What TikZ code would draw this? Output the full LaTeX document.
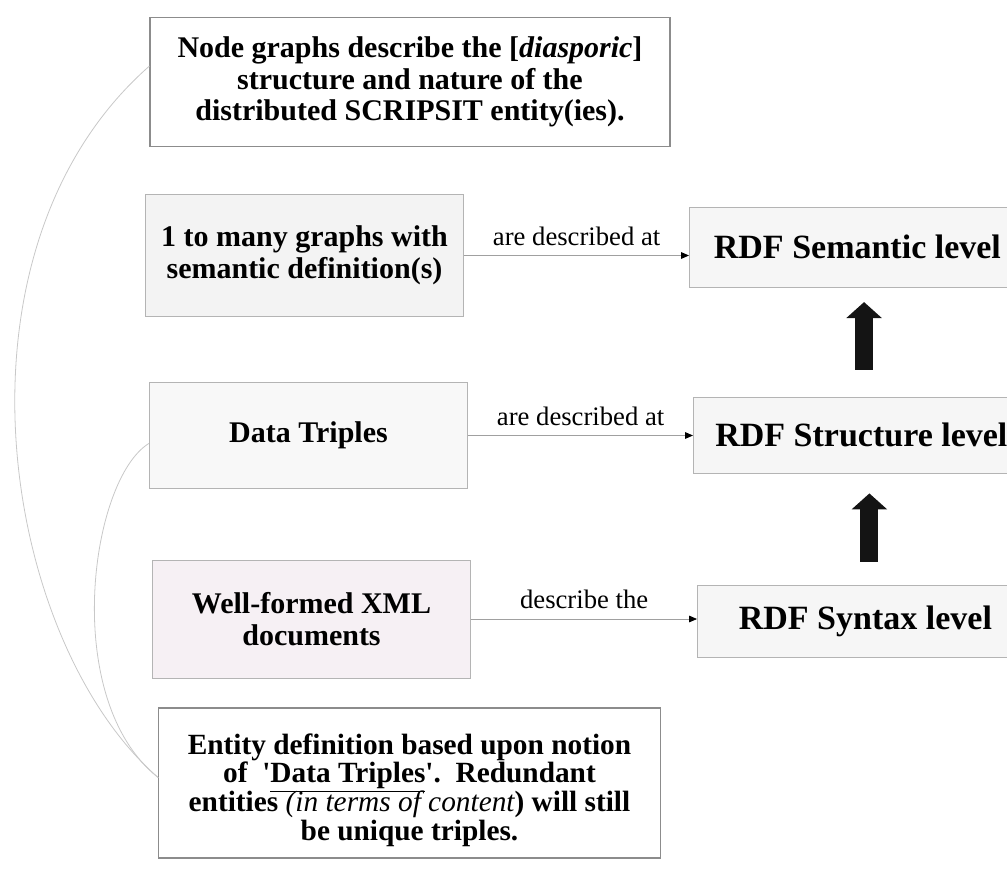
\documentclass[tikz,border=0pt]{standalone}
\usepackage{fontspec}
\setmainfont{Liberation Serif}
\usetikzlibrary{arrows.meta}
\definecolor{boxgrey}{HTML}{8C8C8C}
\definecolor{partgrey}{HTML}{B4B4B4}
\definecolor{partfill}{HTML}{F3F3F3}
\definecolor{triplefill}{HTML}{F8F8F8}
\definecolor{xmlfill}{HTML}{F6F0F4}
\definecolor{levelfill}{HTML}{F6F6F6}
\definecolor{linkgrey}{HTML}{A0A0A0}
\definecolor{curvegrey}{HTML}{C8C8C8}
\begin{document}
\begin{tikzpicture}[x=0.75pt,y=-0.75pt,
    note/.style={draw=boxgrey,line width=0.8pt,fill=white,align=center,
        font=\bfseries\fontsize{22.5pt}{23.5pt}\selectfont},
    part/.style={draw=partgrey,line width=0.6pt,fill=partfill,align=center,
        minimum width=239pt,font=\bfseries\fontsize{22.5pt}{24pt}\selectfont},
    rdfbox/.style={draw=partgrey,line width=0.6pt,fill=levelfill,anchor=west,
        minimum width=252pt,font=\bfseries\fontsize{25.5pt}{27pt}\selectfont},
    link/.style={draw=linkgrey,line width=0.6pt,-{Triangle[length=6pt,width=5pt,color=black]}},
    linklabel/.style={above=4pt,font=\fontsize{20pt}{22pt}\selectfont},
    lift/.style={draw=black!92,line width=13.5pt,-{Triangle[length=12pt,width=26pt]}},
    backcurve/.style={draw=curvegrey,line width=0.6pt}]
    \clip (0,0) rectangle (1007,874);
    % left column
    \node[note,minimum width=390pt,minimum height=97pt] (desc) at (410,82)
        {Node graphs describe the [\textit{diasporic}]\\structure and nature of the\\distributed SCRIPSIT entity(ies).};
    \node[part,minimum height=91pt] (graphs) at (304.5,255.5) {1 to many graphs with\\semantic definition(s)};
    \node[part,minimum height=80pt,fill=triplefill] (triples) at (308.5,435.5) {Data Triples};
    \node[part,minimum height=88.5pt,fill=xmlfill] (xml) at (311.5,619) {Well-formed XML\\documents};
    \node[note,minimum width=376pt,minimum height=112.5pt,
        font={\bfseries\fontsize{22pt}{21.5pt}\selectfont\lineskiplimit -20pt\relax}] (entity) at (409.5,783)
        {\rule{0pt}{26pt}Entity definition based upon notion\\
         of \ \textquotesingle\underline{Data Triples}\textquotesingle.\ \ Redundant\\
         entities {\mdseries\itshape (in terms of content}) will still\\
         be unique triples.};
    % RDF levels
    \node[rdfbox,minimum height=60pt] (sem) at (689,247) {RDF Semantic level};
    \node[rdfbox,minimum height=57pt] (struct) at (693,435) {RDF Structure level};
    \node[rdfbox,minimum height=54pt] (syn) at (697,621) {RDF Syntax level};
    % links
    \draw[link] (graphs) -- (graphs -| sem.west) node[linklabel,midway] {are described at};
    \draw[link] (triples) -- (triples -| struct.west) node[linklabel,midway] {are described at};
    \draw[link] (xml) -- (xml -| syn.west) node[linklabel,midway] {describe the};
    % block arrows
    \coordinate (lifta) at ([xshift=2pt,yshift=20pt]struct.north);
    \coordinate (semfoot) at ([yshift=-11pt]sem.south);
    \draw[lift] (lifta) -- (lifta |- semfoot);
    \coordinate (liftb) at ([xshift=3pt,yshift=17pt]syn.north);
    \coordinate (structfoot) at ([yshift=-15pt]struct.south);
    \draw[lift] (liftb) -- (liftb |- structfoot);
    % curves on the left
    \draw[backcurve] ([yshift=12pt]desc.west) .. controls (-60,250) and (0,640) .. ([yshift=4pt]entity.west);
    \draw[backcurve] ([yshift=-6pt]triples.west) .. controls (90,480) and (60,700) .. ([yshift=4pt]entity.west);
\end{tikzpicture}
\end{document}
